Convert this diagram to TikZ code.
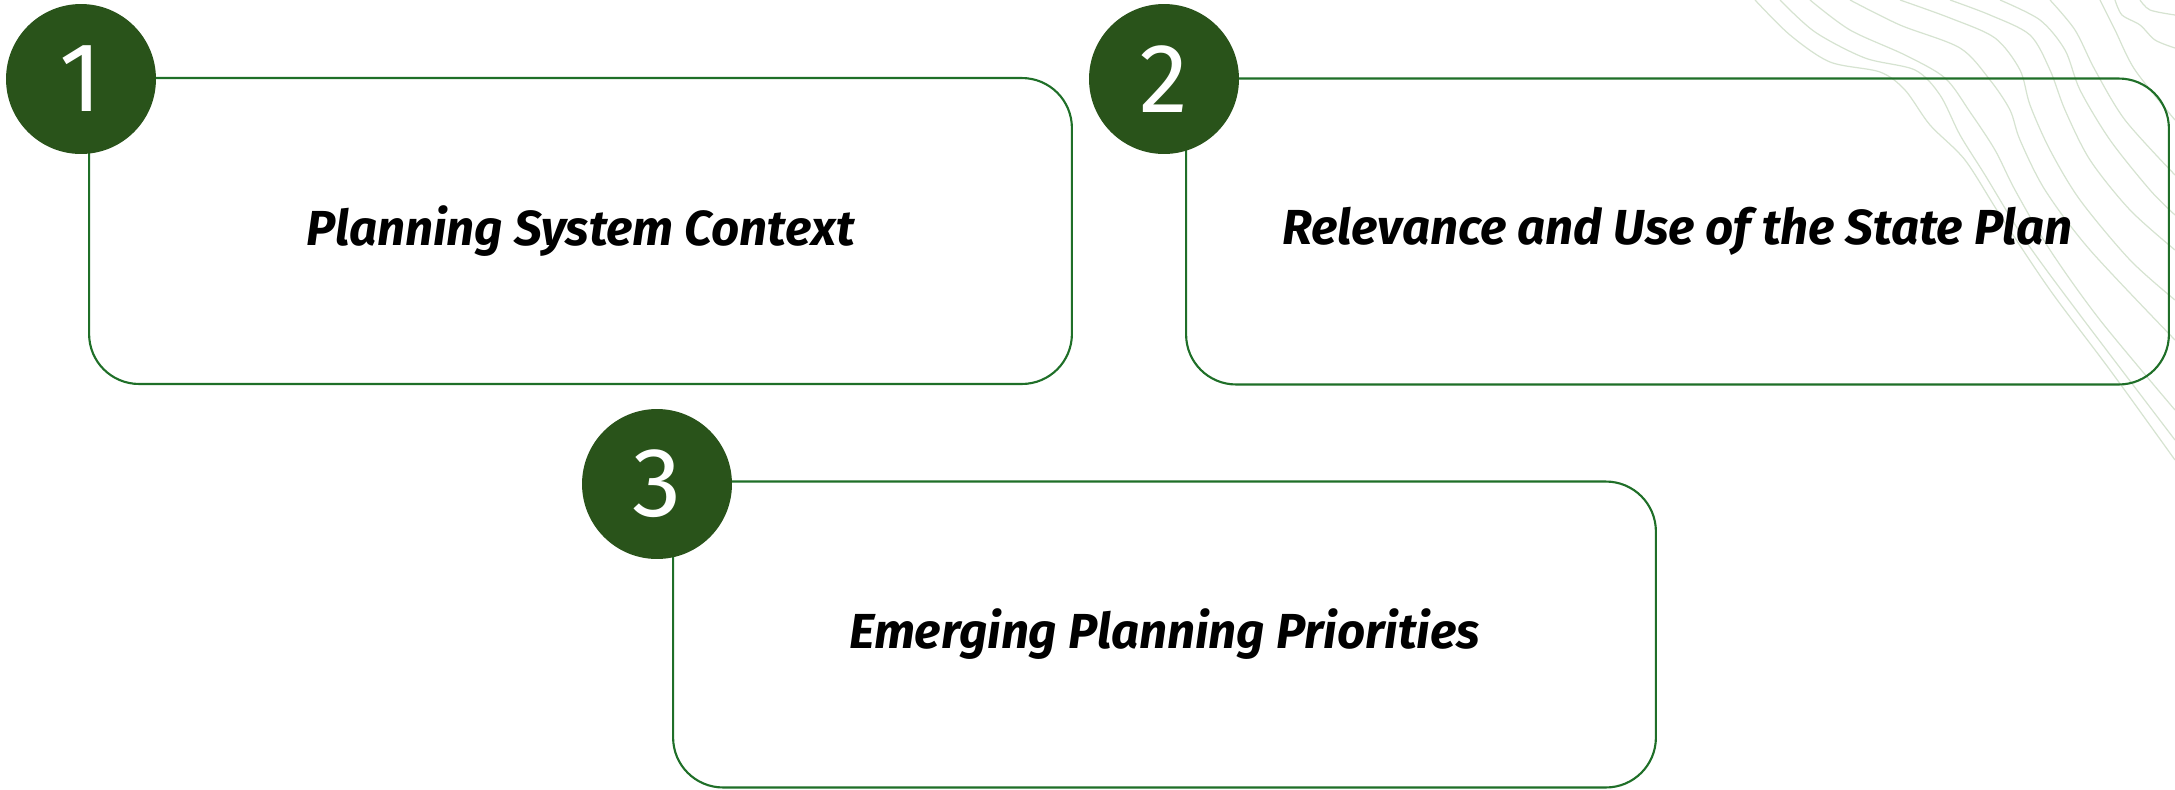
\documentclass[tikz,border=0pt]{standalone}
\usepackage{fontspec}
\setmainfont{Fira Sans}
\usetikzlibrary{positioning}
\definecolor{darkleaf}{HTML}{29531A}
\definecolor{boxline}{HTML}{1F6F28}
\definecolor{contour}{HTML}{D6E3D1}

\begin{document}
\begin{tikzpicture}[x=0.02cm,y=-0.02cm,
        topic/.style={rectangle,draw=boxline,line width=1.2pt,rounded corners=1cm,
            minimum width=19.66cm,minimum height=6.12cm,inner sep=0pt,
            font=\fontsize{28}{32}\selectfont\bfseries\itshape},
        badge/.style={circle,fill=darkleaf,text=white,minimum size=3cm,inner sep=0pt,
            font=\fontsize{56}{60}\selectfont},
        topo/.style={draw=contour,line width=0.7pt}]
        \useasboundingbox (0,0) rectangle (2175,789);
        % contour lines, top right
        \draw[topo] plot[smooth] coordinates {(1755,0) (1790,35) (1830,62) (1880,72) (1905,90) (1930,125) (1965,160) (2000,215) (2050,290) (2110,370) (2175,460)};
        \draw[topo] plot[smooth] coordinates {(1780,0) (1815,32) (1865,58) (1915,70) (1940,95) (1960,135) (1985,175) (2025,240) (2080,315) (2175,440)};
        \draw[topo] plot[smooth] coordinates {(1810,0) (1850,30) (1905,55) (1945,78) (1970,112) (1995,150) (2015,190) (2050,250) (2100,320) (2175,410)};
        \draw[topo] plot[smooth] coordinates {(1850,0) (1900,25) (1960,48) (1990,80) (2010,110) (2020,140) (2045,190) (2090,250) (2175,340)};
        \draw[topo] plot[smooth] coordinates {(1900,0) (1950,18) (1995,38) (2020,70) (2030,105) (2050,150) (2080,200) (2130,260) (2175,300)};
        \draw[topo] plot[smooth] coordinates {(1950,0) (1990,15) (2030,35) (2050,70) (2065,110) (2090,160) (2130,210) (2175,250)};
        \draw[topo] plot[smooth] coordinates {(2000,0) (2040,20) (2065,50) (2080,90) (2110,140) (2150,190) (2175,215)};
        \draw[topo] plot[smooth] coordinates {(2050,0) (2075,30) (2095,70) (2125,120) (2175,175)};
        \draw[topo] plot[smooth] coordinates {(2100,0) (2115,30) (2135,70) (2175,120)};
        \draw[topo] plot[smooth] coordinates {(2115,0) (2122,15) (2140,25) (2155,40) (2175,48)};
        \draw[topo] plot[smooth] coordinates {(2140,0) (2150,10) (2175,15)};

        \node[topic] (b1) at (580.5,231) {Planning System Context};
        \node[topic] (b2) at (1677.5,231.5) {Relevance and Use of the State Plan};
        \node[topic] (b3) at (1164.5,634.5) {Emerging Planning Priorities};

        \node[badge] (c1) at (81,79) {1};
        \node[badge] (c2) at (1164,79) {2};
        \node[badge] (c3) at (657,484) {3};
\end{tikzpicture}
\end{document}
